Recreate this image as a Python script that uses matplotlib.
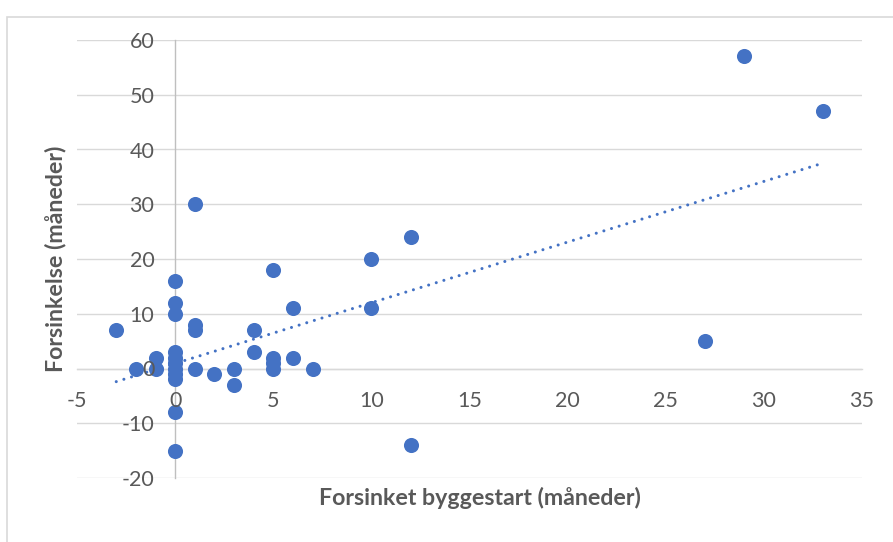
import matplotlib
matplotlib.use("Agg")
import matplotlib.pyplot as plt
from matplotlib.patches import Rectangle

# Data
x_delay_start = [-3, -2, -1, -1, 0, 0, 0, 0, 0, 0, 0, 0, 0, 0, 0,
                 1, 1, 1, 1, 2, 3, 3, 4, 4, 5, 5, 5, 5, 6, 6, 7,
                 10, 10, 12, 12, 27, 29, 33]
y_delay = [7, 0, 2, 0, 16, 12, 10, 3, 2, 1, 0, -1, -2, -8, -15,
           30, 8, 7, 0, -1, 0, -3, 7, 3, 18, 2, 1, 0, 11, 2, 0,
           20, 11, 24, -14, 5, 57, 47]

# Linear trendline (endpoints)
trend_x = [-3, 33]
trend_y = [-2.4, 37.5]

x_ticks = [-5, 0, 5, 10, 15, 20, 25, 30, 35]
y_ticks = [-20, -10, 0, 10, 20, 30, 40, 50, 60]
x_label = "Forsinket byggestart (måneder)"
y_label = "Forsinkelse (måneder)"

W, H = 893, 542
fig = plt.figure(figsize=(W / 100, H / 100), dpi=100)
fig.patch.set_facecolor("white")

# outer chart border (left & top visible)
fig.patches.append(Rectangle((7 / W, -0.1), 1.2, 1.1 - 17 / H,
                             transform=fig.transFigure, fill=False,
                             edgecolor="#D9D9D9", linewidth=1.2))

left, right = 77 / W, 862 / W
bottom, top = 1 - 478 / H, 1 - 40 / H
ax = fig.add_axes([left, bottom, right - left, top - bottom])
ax.set_xlim(x_ticks[0], x_ticks[-1])
ax.set_ylim(y_ticks[0], y_ticks[-1])
ax.set_facecolor("none")

grid_col = "#D9D9D9"
for yt in y_ticks:
    ax.axhline(yt, color=grid_col, linewidth=1.0, zorder=0.5)

for s in ["top", "right"]:
    ax.spines[s].set_visible(False)
ax.spines["left"].set_position(("data", 0))
ax.spines["bottom"].set_position(("data", 0))
ax.spines["left"].set_color("#BFBFBF")
ax.spines["bottom"].set_color(grid_col)
ax.spines["left"].set_linewidth(1.0)
ax.spines["bottom"].set_linewidth(1.0)
ax.spines["left"].set_zorder(0.6)
ax.spines["bottom"].set_zorder(0.6)

font = "Lato"
tick_col = "#595959"
ax.set_xticks(x_ticks)
ax.set_yticks(y_ticks)
ax.set_xticklabels([str(v) for v in x_ticks])
ax.set_yticklabels([str(v) for v in y_ticks])
ax.tick_params(axis="both", length=0, labelcolor=tick_col, labelsize=15.5)
ax.tick_params(axis="y", pad=15)
ax.tick_params(axis="x", pad=16)
for lab in ax.get_xticklabels() + ax.get_yticklabels():
    lab.set_fontfamily(font)
ax.xaxis.set_zorder(3)
ax.yaxis.set_zorder(3)

ax.scatter(x_delay_start, y_delay, s=118, color="#4472C4", zorder=2,
           linewidths=0)
ax.plot(trend_x, trend_y, color="#4472C4", linewidth=2.2,
        linestyle=(0, (0.01, 2.6)), dash_capstyle="round", zorder=2.2)

fig.text(480 / W, 1 - 498 / H, x_label, ha="center", va="center",
         fontsize=16.7, fontweight="bold", color=tick_col, fontfamily=font)
fig.text(56 / W, 1 - 259 / H, y_label, ha="center", va="center",
         rotation=90, fontsize=16.7, fontweight="bold", color=tick_col,
         fontfamily=font)

fig.savefig("out.png", dpi=100, facecolor="white")
